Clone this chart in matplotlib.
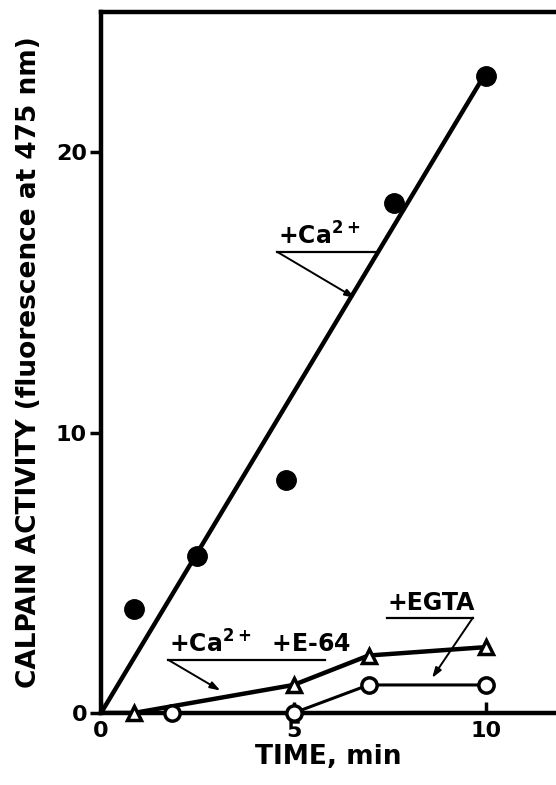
import matplotlib

matplotlib.use("Agg")

import matplotlib.pyplot as plt

plt.rcParams["font.family"] = ["Liberation Sans Narrow", "DejaVu Sans"]
plt.rcParams["font.weight"] = "bold"

# +Ca2+ (filled circles) and its fitted line
ca_time = [0.85, 2.5, 4.8, 7.6, 10.0]
ca_activity = [3.7, 5.6, 8.3, 18.2, 22.7]
ca_fit_time = [0.0, 9.85]
ca_fit_activity = [0.0, 22.5]

# +Ca2+ +E-64 (open triangles)
e64_time = [0.0, 0.85, 5.0, 6.95, 10.0]
e64_activity = [0.0, 0.0, 1.0, 2.05, 2.35]

# +EGTA (open circles)
egta_time = [1.85, 5.0, 6.95, 10.0]
egta_activity = [0.0, 0.0, 1.0, 1.0]

xticks = [0, 5, 10]
yticks = [0, 10, 20]

fig = plt.figure(figsize=(5.56, 7.85), dpi=100)
ax = fig.add_axes([101 / 556, 72 / 785, 455 / 556, 701 / 785])

ax.plot(ca_fit_time, ca_fit_activity, color="black", lw=3.2, solid_capstyle="round")
ax.plot(ca_time, ca_activity, "o", color="black", ms=14, clip_on=False)

ax.plot(e64_time, e64_activity, "-", color="black", lw=3.2)
ax.plot(e64_time[1:], e64_activity[1:], "^", color="black", mfc="white",
        ms=10, mew=2.5, clip_on=False, zorder=3)

ax.plot(egta_time[1:], egta_activity[1:], "-", color="black", lw=2.2)
ax.plot(egta_time, egta_activity, "o", color="black", mfc="white",
        ms=11, mew=2.5, clip_on=False, zorder=3)


# annotations: text with underline, and a thin arrow from one end of the underline
def label(text, x0, x1, y, tx, ty, from_right=False):
    ax.plot([x0, x1], [y, y], color="black", lw=1.6, clip_on=False)
    start = (x1, y) if from_right else (x0, y)
    ax.annotate("", xy=(tx, ty), xytext=start,
                arrowprops=dict(arrowstyle="-|>,head_length=0.6,head_width=0.2",
                                color="black", lw=1.4, shrinkA=0, shrinkB=0))
    ax.text(x0 + 0.02, y + 0.08, text, fontsize=17, fontweight="bold",
            ha="left", va="bottom")


label("+Ca$^{\\mathbf{2+}}$", 4.57, 7.19, 16.45, 6.6, 14.8)
label("+Ca$^{\\mathbf{2+}}$  +E-64", 1.74, 5.82, 1.9, 3.1, 0.8)
label("+EGTA", 7.43, 9.66, 3.4, 8.6, 1.25, from_right=True)

ax.set_xlim(0, 455 / 38.5)
ax.set_ylim(0, 25.0)
ax.set_xticks(xticks)
ax.set_yticks(yticks)
ax.set_xticklabels([str(t) for t in xticks])
ax.set_yticklabels([str(t) for t in yticks])
ax.tick_params(axis="y", direction="out", length=8, width=2.5,
               labelsize=16, pad=2)
ax.tick_params(axis="x", direction="in", length=8, width=2.5,
               labelsize=16, pad=6)
for lbl in ax.get_xticklabels() + ax.get_yticklabels():
    lbl.set_fontweight("bold")

ax.spines["right"].set_visible(False)
for s in ["left", "bottom", "top"]:
    ax.spines[s].set_linewidth(3.2)

ax.set_xlabel("TIME, min", fontsize=19, fontweight="bold", labelpad=2)
ax.set_ylabel("CALPAIN ACTIVITY (fluorescence at 475 nm)", fontsize=19,
              fontweight="bold", labelpad=10)

fig.savefig("out.png", dpi=100)
